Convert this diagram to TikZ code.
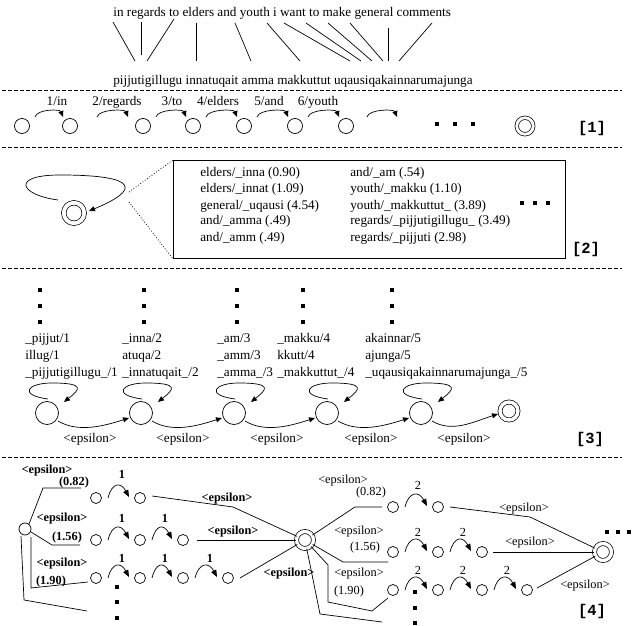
\documentclass[tikz,border=0pt]{standalone}
\usepackage{fontspec}
\setmainfont{Liberation Serif}
\newfontfamily\monofnt{Liberation Mono}
\usetikzlibrary{arrows.meta,calc}
\begin{document}
\begin{tikzpicture}[x=1pt,y=-1pt,line width=0.7pt,
  txt/.style={font=\fontsize{13.2}{16}\selectfont, inner sep=0, anchor=base west},
  txtc/.style={font=\fontsize{13.2}{16}\selectfont, inner sep=0, anchor=base},
  lbb/.style={font=\fontsize{12.3}{15}\selectfont\bfseries, inner sep=0, anchor=base},
  lbr/.style={font=\fontsize{12.3}{15}\selectfont, inner sep=0, anchor=base},
  tag/.style={font=\monofnt\bfseries\fontsize{15.5}{18}\selectfont, inner sep=0},
  st/.style={circle,draw,minimum size=15pt,inner sep=0},
  sm/.style={circle,draw,minimum size=11pt,inner sep=0},
  fin1/.style={circle,draw,double,double distance=2.8pt,minimum size=16.5pt,inner sep=0},
  fin2/.style={circle,draw,double,double distance=3.8pt,minimum size=20.5pt,inner sep=0},
  fin3/.style={circle,draw,double,double distance=3.4pt,minimum size=18pt,inner sep=0},
  fin4/.style={circle,draw,double,double distance=3.4pt,minimum size=17pt,inner sep=0},
  dsq/.style={fill,minimum size=4.6pt,inner sep=0},
  arr/.style={-{Triangle[length=6pt,width=5pt]}},
  arr4/.style={-{Triangle[length=7pt,width=5.5pt]}},
  sep/.style={dash pattern=on 3.5pt off 2.5pt},
]
\useasboundingbox (0,0) rectangle (633,626);

% ---------- top: word alignment ----------
\node[txt] (en) at (113,17) {in regards to elders and youth i want to make general comments};
\node[txt] (iu) at (113,84.5) {pijjutigillugu innatuqait amma makkuttut uqausiqakainnarumajunga};
\foreach \a/\b/\c/\d in {113/22/135/61, 141/22/141/55, 174/19/147/61, 196/23/196/61,
  235/23/251/61, 267/23/300/61, 284/23/350/61, 306/23/361/61, 328/23/372/61,
  350/23/383/61, 388/28/388/61, 432/23/399/61}
  \draw (\a,\b) -- (\c,\d);

\draw[sep] (2,90) -- (622,90);

% ---------- [1] ----------
\foreach \n/\x in {1/22,2/70,3/143,4/193,5/244,6/295,7/346}
  \node[st] (a\n) at (\x,126) {};
\foreach \p/\q/\l/\lx in {1/2/1\slash in/57, 3/4/3\slash to/172, 4/5/4\slash elders/218, 5/6/5\slash and/269, 6/7/6\slash youth/318}{
  \draw[arr] ([shift={(13,-9)}]a\p.center) .. controls +(2,-8) and +(-3,-8) .. ([shift={(-7,-9)}]a\q.center);
  \node[txtc] at (\lx,106) {\l};
}
\draw[arr] (97,117) .. controls (99,109) and (125,109) .. (128,117);
\node[txtc] at (117,106) {2/regards};
\draw[arr] (367,117) .. controls (369,109) and (394,109) .. (397,117);
\node[dsq] at (437,124) {};
\node[dsq] at (455,124) {};
\node[dsq] at (473,124) {};
\node[fin1] (af) at (525,126) {};
\node[tag] at (592,128) {[1]};

\draw[sep] (2,147) -- (622,147);

% ---------- [2] ----------
\node[fin2] (d2) at (74,213) {};
\draw[arr] ([shift={(-16,-13)}]d2.center) .. controls +(-38,-5) and +(-50,0) .. ([shift={(-14,-38)}]d2.center)
  .. controls +(80,0) and +(51,-21) .. ([shift={(15,-2)}]d2.center);
\node[draw,line width=0.9pt,minimum width=392pt,minimum height=98pt,anchor=north west,inner sep=0] (box) at (173,160) {};
\coordinate (z1) at (129,192);
\coordinate (z2) at (129,202);
\draw[dotted,line width=0.8pt] (z1) -- (box.north west);
\draw[dotted,line width=0.8pt] (z2) -- (box.south west);
\foreach \t [count=\i] in {elders/\_inna (0.90), elders/\_innat (1.09), general/\_uqausi (4.54), and/\_amma (.49), and/\_amm (.49)}
  \node[txt] at (200,161+16*\i) {\t};
\foreach \t [count=\i] in {and/\_am (.54), youth/\_makku (1.10), youth/\_makkuttut\_ (3.89), regards/\_pijjutigillugu\_ (3.49), regards/\_pijjuti (2.98)}
  \node[txt] at (350,161+16*\i) {\t};
\node[dsq] at (522,203) {};
\node[dsq] at (535,203) {};
\node[dsq] at (548,203) {};
\node[tag] at (586,249) {[2]};

\draw[sep] (2,268) -- (622,268);

% ---------- [3] ----------
\foreach \dx in {40,144,237,303,392}{
  \node[dsq] at (\dx,290) {};
  \node[dsq] at (\dx,306) {};
  \node[dsq] at (\dx,322) {};
}
\foreach \tx/\ta/\tb/\tc in {25/\_pijjut\slash 1/illug\slash 1/\_pijjutigillugu\_\slash 1,
  122/\_inna\slash 2/atuqa\slash 2/\_innatuqait\_\slash 2,
  217/\_am\slash 3/\_amm\slash 3/\_amma\_\slash 3,
  277/\_makku\slash 4/kkutt\slash 4/\_makkuttut\_\slash 4,
  365/akainnar\slash 5/ajunga\slash 5/\_uqausiqakainnarumajunga\_\slash 5}{
  \node[txt] at (\tx,342) {\ta};
  \node[txt] at (\tx,359) {\tb};
  \node[txt] at (\tx,376) {\tc};
}
\foreach \n/\x in {1/47,2/141,3/234,4/327,5/421}{
  \node[st,minimum size=23pt] (c\n) at (\x,413) {};
  \draw[arr] ([shift={(1,-14)}]c\n.center) .. controls +(-30,-4) and +(-25,0) .. ([shift={(5,-30)}]c\n.center)
    .. controls +(35,0) and +(15,-12) .. ([shift={(17,-11)}]c\n.center);
}
\node[fin3] (cf) at (509,411) {};
\foreach \p/\q/\lx in {1/2/90,2/3/183,3/4/277,4/5/371}{
  \draw[arr] ([shift={(11,8)}]c\p.center) .. controls +(20,12) and +(-25,8) .. ([shift={(-12,5)}]c\q.center);
  \node[txtc] at (\lx,442) {<epsilon>};
}
\draw[arr] ([shift={(11,8)}]c5.center) .. controls +(20,12) and +(-25,8) .. ([shift={(-11,3)}]cf.center);
\node[txtc] at (464,442) {<epsilon>};
\node[tag] at (590,439) {[3]};

\draw[sep] (2,457) -- (622,457);

% ---------- [4] ----------
\node[sm,minimum size=12pt] (s0) at (25,529) {};
\node[sm] (s11) at (96,498) {};
\node[sm] (s12) at (140,498) {};
\node[sm] (s21) at (96,540) {};
\node[sm] (s22) at (140,540) {};
\node[sm] (s23) at (183,540) {};
\node[sm] (s31) at (96,578) {};
\node[sm] (s32) at (140,578) {};
\node[sm] (s33) at (183,578) {};
\node[sm] (s34) at (228,578) {};
\foreach \p/\q in {11/12, 21/22, 22/23, 31/32, 32/33, 33/34}
  \draw[arr4] ([shift={(12,0)}]s\p.center) .. controls +(4,-16) and +(-8,-15) .. ([shift={(-11,-1)}]s\q.center);
\node[lbb] at (122,478) {1};
\node[lbb] at (122,522) {1};
\node[lbb] at (165,522) {1};
\node[lbb] at (122,562) {1};
\node[lbb] at (165,562) {1};
\node[lbb] at (210,562) {1};
\draw ([shift={(4,-5)}]s0.center) -- (43,488) -- (81,488);
\draw ([shift={(6,3)}]s0.center) -- (52,545) -- (80,545);
\draw ([shift={(6,8)}]s0.center) -- (31,588) -- (88,582);
\draw ([shift={(-4,7)}]s0.center) -- (24,600) -- (87,611);
\node[lbb] at (47,473.5) {<epsilon>};
\node[lbb] at (74,485.5) {(0.82)};
\node[lbb] at (62,521.5) {<epsilon>};
\node[lbb] at (67,540.5) {(1.56)};
\node[lbb] at (62,566.5) {<epsilon>};
\node[lbb] at (51,584.5) {(1.90)};
\node[dsq,minimum size=4pt] at (117,587) {};
\node[dsq,minimum size=4pt] at (117,602) {};
\node[dsq,minimum size=4pt] at (117,618) {};

\node[fin4] (h1) at (305,540) {};
\draw ([shift={(12,-2)}]s12.center) -- (233,507) -- (h1);
\draw ([shift={(14,0)}]s23.center) -- (h1);
\draw ([shift={(12,0)}]s34.center) -- (h1);
\node[lbb] at (227,501.5) {<epsilon>};
\node[lbb] at (233,534.5) {<epsilon>};
\node[lbb] at (289,576.5) {<epsilon>};

\node[sm] (r11) at (393,507) {};
\node[sm] (r12) at (438,507) {};
\node[sm] (r21) at (393,552) {};
\node[sm] (r22) at (438,552) {};
\node[sm] (r23) at (482,552) {};
\node[sm] (r31) at (393,590) {};
\node[sm] (r32) at (438,590) {};
\node[sm] (r33) at (482,590) {};
\node[sm] (r34) at (527,590) {};
\foreach \p/\q in {11/12, 21/22, 22/23, 31/32, 32/33, 33/34}
  \draw[arr4] ([shift={(12,0)}]r\p.center) .. controls +(4,-16) and +(-8,-15) .. ([shift={(-11,-1)}]r\q.center);
\node[lbr] at (418,489) {2};
\node[lbr] at (418,536) {2};
\node[lbr] at (463,536) {2};
\node[lbr] at (418,574) {2};
\node[lbr] at (463,574) {2};
\node[lbr] at (507,574) {2};
\draw (h1) -- (355,507) -- ([shift={(-11,0)}]r11.center);
\draw (h1) -- (343,562) -- (388,562);
\draw (h1) -- (328,565) -- (328,602) -- (372,611) -- (388,598);
\draw (h1) -- (320,614) -- (382,622);
\node[lbr] at (343,483.5) {<epsilon>};
\node[lbr] at (371,495.5) {(0.82)};
\node[lbr] at (359,534.5) {<epsilon>};
\node[lbr] at (365,550.5) {(1.56)};
\node[lbr] at (359,576.5) {<epsilon>};
\node[lbr] at (349,594.5) {(1.90)};
\node[dsq,minimum size=4pt] at (415,592) {};
\node[dsq,minimum size=4pt] at (415,608) {};
\node[dsq,minimum size=4pt] at (415,623) {};

\node[fin4] (h2) at (603,552) {};
\draw ([shift={(12,0)}]r12.center) -- (530,517) -- (h2);
\draw ([shift={(11,0)}]r23.center) -- (h2);
\draw ([shift={(10,-2)}]r34.center) -- (h2);
\node[lbr] at (524,511.5) {<epsilon>};
\node[lbr] at (530,545.5) {<epsilon>};
\node[lbr] at (585,588.5) {<epsilon>};
\node[dsq,minimum size=4pt] at (607,532) {};
\node[dsq,minimum size=4pt] at (618,532) {};
\node[dsq,minimum size=4pt] at (629,532) {};
\node[tag] at (592,611) {[4]};
\end{tikzpicture}
\end{document}
